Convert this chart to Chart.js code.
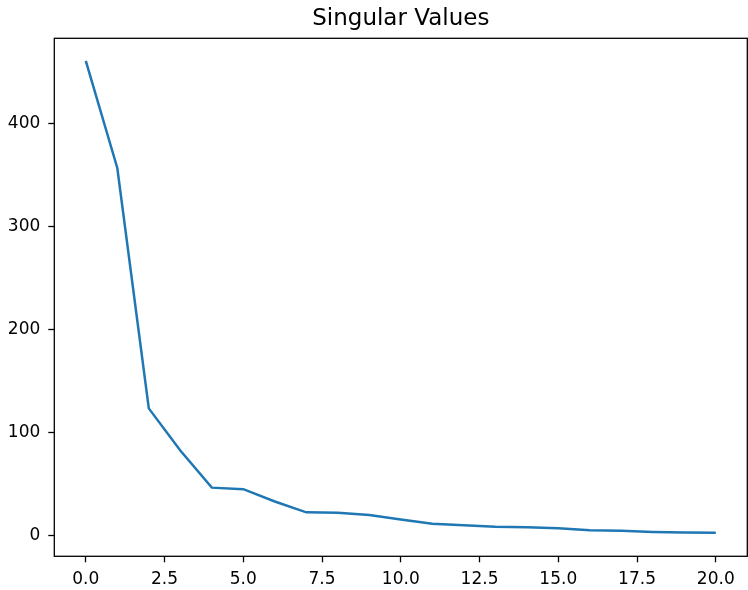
<!DOCTYPE html>
<html>
<head>
<meta charset="utf-8">
<title>Singular Values</title>
<script src="https://cdn.jsdelivr.net/npm/chart.js@4.4.1/dist/chart.umd.min.js"></script>
<style>
  html, body { margin: 0; padding: 0; background: #ffffff; }
  #wrap { width: 748px; height: 590px; }
</style>
</head>
<body>
<div id="wrap"><canvas id="svChart" width="748" height="590"></canvas></div>
<script>
// values
const indices = [0, 1, 2, 3, 4, 5, 6, 7, 8, 9, 10, 11, 12, 13, 14, 15, 16, 17, 18, 19, 20];
const singularValues = [461, 357, 123.5, 82.5, 46.5, 45, 33, 22.5, 22, 20, 15.5, 11.5, 10, 8.5, 8, 7, 5, 4.5, 3.5, 3, 2.7];
const xTicks = [0, 2.5, 5, 7.5, 10, 12.5, 15, 17.5, 20];
const yTicks = [0, 100, 200, 300, 400];

const FONT = "'DejaVu Sans', sans-serif";

// matplotlib draws a box round the whole axes
const framePlugin = {
  id: "frame",
  afterDraw: (chart) => {
    const { ctx, chartArea: a } = chart;
    ctx.save();
    ctx.strokeStyle = "#000";
    ctx.lineWidth = 1.3;
    ctx.strokeRect(a.left, a.top, a.right - a.left, a.bottom - a.top);
    ctx.restore();
  }
};

const points = indices.map((x, i) => ({ x: x, y: singularValues[i] }));

const ctx = document.getElementById("svChart").getContext("2d");

new Chart(ctx, {
  type: "line",
  data: {
    datasets: [
      {
        label: "Singular Values",
        data: points,
        borderColor: "#1f77b4",
        borderWidth: 2.5,
        pointRadius: 0,
        tension: 0,
        fill: false
      }
    ]
  },
  options: {
    responsive: false,
    animation: false,
    devicePixelRatio: 1,
    layout: { padding: { top: 0, right: 0.7, bottom: 0, left: 0 } },
    plugins: {
      legend: { display: false },
      tooltip: { enabled: false },
      title: {
        display: true,
        text: "Singular Values",
        fullSize: false,
        color: "#000",
        font: { family: FONT, size: 23, weight: "normal", lineHeight: 1.2 },
        padding: { top: 5.5, bottom: 5.2 }
      }
    },
    scales: {
      x: {
        type: "linear",
        min: -1,
        max: 21,
        afterBuildTicks: (scale) => { scale.ticks = xTicks.map(v => ({ value: v })); },
        afterFit: (scale) => { scale.height = 33.7; },
        grid: { display: true, drawOnChartArea: false, drawTicks: true, tickLength: 6, tickColor: "#000", tickWidth: 1.3 },
        border: { display: false },
        ticks: {
          color: "#000",
          padding: 7,
          maxRotation: 0,
          font: { family: FONT, size: 17 },
          callback: (v) => v.toFixed(1)
        }
      },
      y: {
        type: "linear",
        min: -20.2,
        max: 483,
        afterBuildTicks: (scale) => { scale.ticks = yTicks.map(v => ({ value: v })); },
        afterFit: (scale) => { scale.width = 54.3; },
        grid: { display: true, drawOnChartArea: false, drawTicks: true, tickLength: 6, tickColor: "#000", tickWidth: 1.3 },
        border: { display: false },
        ticks: {
          color: "#000",
          padding: 8,
          font: { family: FONT, size: 17 },
          callback: (v) => String(v)
        }
      }
    }
  },
  plugins: [framePlugin]
});
</script>
</body>
</html>
